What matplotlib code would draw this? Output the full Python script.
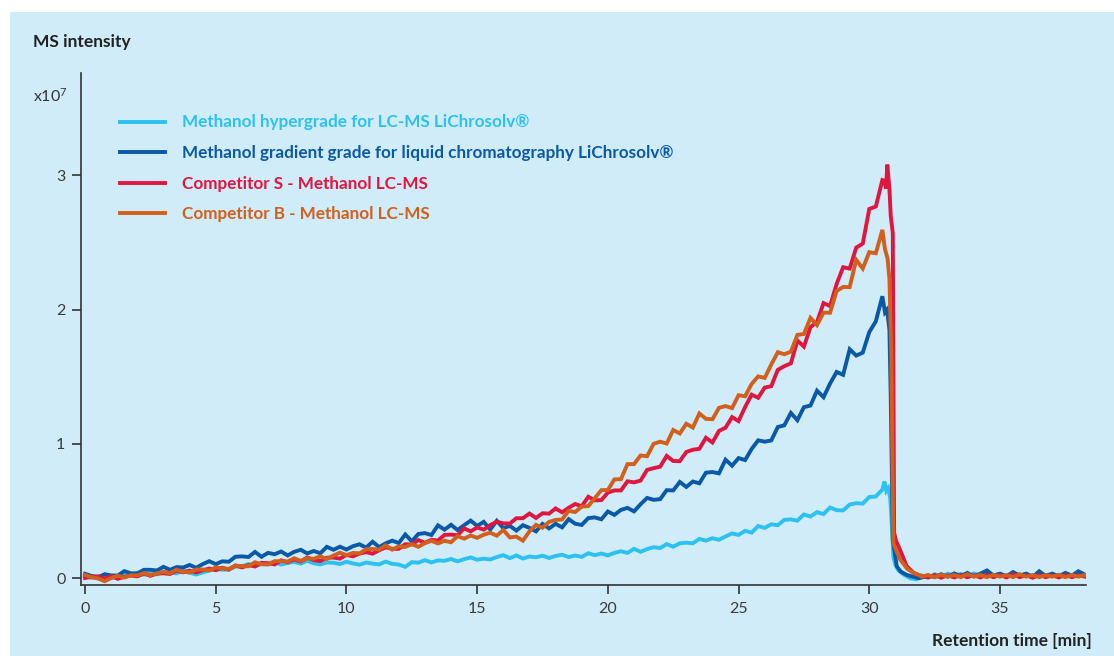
import numpy as np
import matplotlib
matplotlib.use("Agg")
import matplotlib.pyplot as plt
from matplotlib.patches import Rectangle
from matplotlib.lines import Line2D

plt.rcParams['font.family'] = ['Lato', 'DejaVu Sans']
plt.rcParams['mathtext.fontset'] = 'custom'
plt.rcParams['mathtext.rm'] = 'Lato'
plt.rcParams['mathtext.it'] = 'Lato:italic'
plt.rcParams['mathtext.bf'] = 'Lato:bold'
plt.rcParams['mathtext.default'] = 'regular'

# ---------------- data ----------------
labels = [
    "Methanol hypergrade for LC-MS LiChrosolv®",
    "Methanol gradient grade for liquid chromatography LiChrosolv®",
    "Competitor S - Methanol LC-MS",
    "Competitor B - Methanol LC-MS",
]
colors = ["#2cc1f0", "#0a58a8", "#e0163e", "#d35f1d"]

# common sampling grid 0 .. 30.5 min, step 0.25 min
t_main = np.arange(0, 30.51, 0.25)
# tail grid 32.0 .. 38.25 min
t_tail = np.arange(32.0, 38.26, 0.25)

hyper_main = [
    0.015, 0.003, 0.011, 0.017, 0.005, 0.006, 0.023, 0.023,
    0.041, 0.027, 0.035, 0.029, 0.047, 0.044, 0.036, 0.057,
    0.041, 0.028, 0.043, 0.058, 0.069, 0.064, 0.065, 0.087,
    0.089, 0.106, 0.090, 0.106, 0.104, 0.119, 0.102, 0.113,
    0.122, 0.109, 0.130, 0.111, 0.103, 0.118, 0.115, 0.106,
    0.123, 0.110, 0.101, 0.117, 0.109, 0.103, 0.124, 0.107,
    0.102, 0.085, 0.120, 0.116, 0.135, 0.118, 0.133, 0.130,
    0.143, 0.126, 0.142, 0.155, 0.138, 0.146, 0.140, 0.158,
    0.172, 0.150, 0.170, 0.147, 0.162, 0.156, 0.168, 0.151,
    0.166, 0.175, 0.158, 0.169, 0.159, 0.186, 0.172, 0.184,
    0.170, 0.189, 0.201, 0.189, 0.219, 0.197, 0.217, 0.231,
    0.225, 0.254, 0.235, 0.260, 0.265, 0.260, 0.293, 0.280,
    0.298, 0.287, 0.311, 0.334, 0.323, 0.353, 0.340, 0.389,
    0.375, 0.402, 0.395, 0.435, 0.438, 0.429, 0.475, 0.460,
    0.492, 0.478, 0.527, 0.507, 0.505, 0.549, 0.559, 0.556,
    0.605, 0.609, 0.660,
]
hyper_peak_t = [30.58, 30.65, 30.72, 30.80, 30.86, 30.92, 31.00, 31.11, 31.30, 31.56, 31.80]
hyper_peak = [0.72, 0.65, 0.67, 0.60, 0.40, 0.16, 0.10, 0.06, 0.03, 0.00, -0.008]
hyper_tail = [0.020, 0.005, 0.030, 0.012, 0.034, 0.016, 0.032, 0.010, 0.036, 0.018,
              0.050, 0.022, 0.034, 0.016, 0.040, 0.020, 0.034, 0.014, 0.040, 0.020,
              0.034, 0.012, 0.036, 0.016, 0.038, 0.022]

grad_main = [
    0.033, 0.017, 0.008, 0.030, 0.021, 0.020, 0.053, 0.037,
    0.036, 0.063, 0.063, 0.058, 0.085, 0.063, 0.083, 0.080,
    0.099, 0.078, 0.105, 0.127, 0.105, 0.126, 0.123, 0.160,
    0.163, 0.158, 0.196, 0.160, 0.189, 0.179, 0.199, 0.170,
    0.197, 0.212, 0.185, 0.203, 0.186, 0.234, 0.212, 0.235,
    0.214, 0.239, 0.253, 0.228, 0.272, 0.232, 0.260, 0.280,
    0.262, 0.326, 0.275, 0.330, 0.336, 0.322, 0.394, 0.362,
    0.398, 0.359, 0.395, 0.429, 0.390, 0.420, 0.363, 0.428,
    0.373, 0.390, 0.355, 0.395, 0.375, 0.349, 0.405, 0.371,
    0.405, 0.379, 0.440, 0.406, 0.397, 0.448, 0.453, 0.439,
    0.497, 0.472, 0.509, 0.524, 0.498, 0.551, 0.598, 0.584,
    0.589, 0.656, 0.654, 0.717, 0.680, 0.720, 0.707, 0.786,
    0.791, 0.781, 0.883, 0.838, 0.895, 0.880, 0.963, 1.027,
    1.017, 1.026, 1.126, 1.139, 1.231, 1.177, 1.274, 1.286,
    1.397, 1.348, 1.450, 1.536, 1.515, 1.705, 1.658, 1.680,
    1.833, 1.913, 2.100,
]
grad_peak_t = [30.60, 30.68, 30.77, 30.82, 30.90, 31.05, 31.20, 31.43, 31.70, 31.90]
grad_peak = [1.98, 2.00, 1.85, 1.35, 0.29, 0.09, 0.05, 0.025, 0.01, 0.0]
grad_tail = [0.005, 0.020, 0.008, 0.030, 0.012, 0.036, 0.016, 0.040, 0.014, 0.034,
             0.058, 0.020, 0.034, 0.014, 0.046, 0.020, 0.034, 0.010, 0.052, 0.016,
             0.034, 0.014, 0.040, 0.020, 0.052, 0.026]

compS_main = [
    0.002, 0.011, 0.014, -0.003, 0.016, -0.004, 0.010, 0.020,
    0.014, 0.035, 0.018, 0.035, 0.037, 0.032, 0.056, 0.044,
    0.057, 0.044, 0.059, 0.072, 0.060, 0.078, 0.064, 0.095,
    0.081, 0.097, 0.088, 0.115, 0.112, 0.103, 0.133, 0.120,
    0.140, 0.125, 0.155, 0.135, 0.128, 0.153, 0.154, 0.146,
    0.174, 0.163, 0.184, 0.194, 0.183, 0.208, 0.230, 0.219,
    0.219, 0.253, 0.252, 0.284, 0.265, 0.286, 0.281, 0.323,
    0.325, 0.320, 0.372, 0.349, 0.378, 0.362, 0.396, 0.421,
    0.409, 0.407, 0.447, 0.447, 0.482, 0.449, 0.484, 0.481,
    0.520, 0.491, 0.525, 0.553, 0.536, 0.607, 0.580, 0.582,
    0.638, 0.654, 0.654, 0.722, 0.714, 0.727, 0.807, 0.820,
    0.831, 0.911, 0.873, 0.872, 0.940, 0.957, 0.964, 1.046,
    1.011, 1.097, 1.121, 1.200, 1.170, 1.275, 1.367, 1.344,
    1.420, 1.430, 1.552, 1.579, 1.600, 1.770, 1.725, 1.870,
    1.908, 2.049, 2.027, 2.191, 2.316, 2.306, 2.462, 2.492,
    2.750, 2.768, 2.965,
]
compS_peak_t = [30.58, 30.64, 30.69, 30.77, 30.82, 30.90, 30.95, 31.02, 31.18, 31.43, 31.70, 31.94]
compS_peak = [2.96, 2.90, 3.08, 2.90, 2.70, 2.57, 0.34, 0.28, 0.21, 0.09, 0.04, 0.02]
compS_tail = [0.018, 0.006, 0.024, 0.004, 0.022, 0.006, 0.024, 0.008, 0.022, 0.006,
              0.026, 0.008, 0.024, 0.006, 0.030, 0.008, 0.022, 0.004, 0.024, 0.008,
              0.022, 0.006, 0.024, 0.008, 0.022, 0.012]

compB_main = [
    0.024, 0.008, -0.002, -0.022, 0.001, 0.019, 0.005, 0.022,
    0.021, 0.038, 0.023, 0.036, 0.047, 0.038, 0.064, 0.048,
    0.044, 0.065, 0.065, 0.058, 0.081, 0.073, 0.070, 0.094,
    0.091, 0.089, 0.119, 0.104, 0.103, 0.127, 0.127, 0.124,
    0.149, 0.129, 0.148, 0.145, 0.163, 0.144, 0.169, 0.191,
    0.172, 0.189, 0.185, 0.216, 0.218, 0.213, 0.245, 0.213,
    0.238, 0.233, 0.254, 0.234, 0.261, 0.279, 0.259, 0.279,
    0.268, 0.313, 0.295, 0.318, 0.301, 0.324, 0.339, 0.317,
    0.359, 0.304, 0.310, 0.280, 0.349, 0.398, 0.376, 0.420,
    0.434, 0.438, 0.502, 0.493, 0.534, 0.537, 0.597, 0.656,
    0.657, 0.736, 0.738, 0.850, 0.850, 0.914, 0.909, 1.001,
    1.017, 1.003, 1.104, 1.078, 1.150, 1.122, 1.227, 1.187,
    1.184, 1.269, 1.282, 1.267, 1.363, 1.355, 1.447, 1.503,
    1.492, 1.592, 1.683, 1.668, 1.687, 1.812, 1.819, 1.939,
    1.885, 1.978, 1.977, 2.139, 2.169, 2.168, 2.371, 2.306,
    2.428, 2.420, 2.594,
]
compB_peak_t = [30.60, 30.70, 30.77, 30.84, 30.92, 31.18, 31.45, 31.70, 31.95]
compB_peak = [2.45, 2.38, 2.23, 1.70, 0.26, 0.14, 0.07, 0.04, 0.02]
compB_tail = [0.012, 0.024, 0.008, 0.026, 0.012, 0.024, 0.008, 0.030, 0.012, 0.024,
              0.008, 0.026, 0.012, 0.024, 0.008, 0.030, 0.012, 0.024, 0.008, 0.024,
              0.012, 0.026, 0.008, 0.024, 0.012, 0.024]

x_ticks = [0, 5, 10, 15, 20, 25, 30, 35]
y_ticks = [0, 1, 2, 3]

# ---------------- figure ----------------
W, H = 1114, 656
fig = plt.figure(figsize=(W / 100, H / 100), dpi=100, facecolor="white")
bg = "#d1ecf9"
fig.patches.append(Rectangle((10 / W, 0), 1 - 10 / W, 1 - 12 / H,
                             transform=fig.transFigure, facecolor=bg,
                             edgecolor="none", zorder=-10))

ax = fig.add_axes([81.4 / W, 1 - 584.7 / H, (1086 - 81.4) / W, (584.7 - 73.3) / H])
ax.set_facecolor("none")

series = [
    (hyper_main, hyper_peak_t, hyper_peak, hyper_tail),
    (grad_main, grad_peak_t, grad_peak, grad_tail),
    (compS_main, compS_peak_t, compS_peak, compS_tail),
    (compB_main, compB_peak_t, compB_peak, compB_tail),
]
draw_order = [0, 1, 3, 2]
for i in draw_order:
    m, pt, pv, tl = series[i]
    t = np.concatenate([t_main, pt, t_tail])
    v = np.concatenate([m, pv, tl])
    ax.plot(t, v, color=colors[i], lw=2.8, solid_joinstyle="miter", zorder=3 + i)

ax.set_xlim(-0.14, 38.29)
ax.set_ylim(-0.048, 3.76)
ax.set_xticks(x_ticks)
ax.set_yticks(y_ticks)
for s in ["top", "right"]:
    ax.spines[s].set_visible(False)
for s in ["left", "bottom"]:
    ax.spines[s].set_color("#333333")
    ax.spines[s].set_linewidth(1.2)
ax.tick_params(axis="both", colors="#333333", labelcolor="#3a3a3a",
               labelsize=11.5, width=1.2, length=6.5, direction="out")
ax.tick_params(axis="x", pad=6)
ax.tick_params(axis="y", pad=5)

# legend
handles = [Line2D([], [], color=c, lw=2.8) for c in colors]
leg = ax.legend(handles, labels, loc="upper left",
                bbox_to_anchor=(120 / W, 1 - 114.5 / H),
                bbox_transform=fig.transFigure, frameon=False,
                prop={"weight": "bold", "size": 12.3},
                handlelength=2.65, handletextpad=0.95, labelspacing=0.85,
                borderpad=0, borderaxespad=0)
for txt, c in zip(leg.get_texts(), colors):
    txt.set_color(c)

fig.text(33 / W, 1 - 42 / H, "MS intensity", ha="left", va="center",
         weight="bold", size=12.5, color="#222222")
fig.text(33 / W, 1 - 96 / H, "x10$^7$", ha="left", va="center",
         size=11.5, color="#333333")
fig.text(1092 / W, 1 - 641 / H, "Retention time [min]", ha="right", va="center",
         weight="bold", size=12.5, color="#222222")

fig.savefig("out.png", dpi=100, facecolor="white")
